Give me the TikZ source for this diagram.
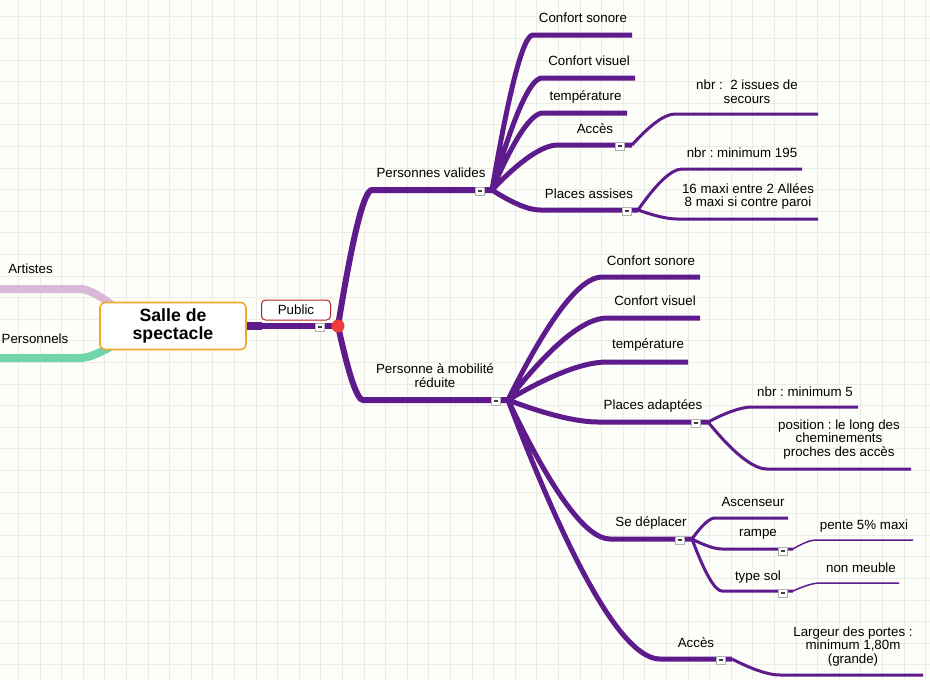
\documentclass[tikz,border=0pt]{standalone}
\usepackage{fontspec}
\setmainfont{Liberation Sans}
\usetikzlibrary{calc}
\definecolor{mmpurple}{HTML}{5E1B8B}
\definecolor{mmred}{HTML}{EE3B3B}
\definecolor{mmdarkred}{HTML}{B22222}
\definecolor{mmorange}{HTML}{F0A830}
\definecolor{mmlilac}{HTML}{D9B8D8}
\definecolor{mmgreen}{HTML}{70D6AA}
\definecolor{mmgrid}{HTML}{ECECE6}
\definecolor{mmbg}{HTML}{FDFDFA}
\frenchspacing
\tikzset{%
    lbl/.style={%
        font=\fontsize{13.33}{13.5}\selectfont, inner sep=0pt, align=center
    },
    salle/.style={%
        draw=mmorange, line width=1.6pt, rounded corners=5pt, fill=white,
        minimum width=146pt, minimum height=47pt, inner sep=0pt, align=center,
        font=\bfseries\fontsize{17.7}{17.5}\selectfont
    },
    pubbox/.style={%
        draw=mmdarkred, line width=1pt, rounded corners=4pt, fill=white,
        minimum width=69pt, minimum height=20pt, inner sep=0pt,
        font=\fontsize{13.33}{13.5}\selectfont
    },
    fold/.style={%
        draw=black!30, fill=white, line width=0.6pt, minimum width=9pt,
        minimum height=8pt, inner sep=0pt,
        path picture={\draw[black!75, line width=1.4pt]
            ([xshift=-2.3pt]path picture bounding box.center) --
            ([xshift=2.3pt]path picture bounding box.center);}
    },
    hubdot/.style={%
        shape=circle, fill=mmred, minimum size=13pt, inner sep=0pt
    },
    gridline/.style={draw=mmgrid, line width=0.8pt},
    br1/.style={draw=mmpurple, line width=6pt},
    br2/.style={draw=mmpurple, line width=5pt},
    br3/.style={draw=mmpurple, line width=3pt},
    br4/.style={draw=mmpurple, line width=1.5pt},
    link/.style={%
        to path={let \p1=(\tikztostart), \p2=(\tikztotarget) in
            .. controls ({\x1+0.433*(\x2-\x1)},{\y1+0.667*(\y2-\y1)})
            and ({\x2-0.233*(\x2-\x1)},\y2) .. (\tikztotarget)}
    }
}

\begin{document}
\begin{tikzpicture}[x=1pt, y=-1pt]
    \useasboundingbox (0,0) rectangle (930,681);
    \fill[mmbg] (0,0) rectangle (930,681);
    \foreach \k in {-1,...,42}
        \draw[gridline] ({18.3+21.6*\k},0) -- ++(0,681);
    \foreach \k in {-1,...,31}
        \draw[gridline] (0,{16.7+21.6*\k}) -- ++(930,0);

    % left branches
    \coordinate (art-s) at (112,305);
    \coordinate (art-m) at (80,289);
    \coordinate (art-l) at (0,289);
    \coordinate (pers-s) at (112,346);
    \coordinate (pers-m) at (80,358);
    \coordinate (pers-l) at (0,358);
    \draw[mmlilac, line width=8pt] (art-s) to[link] (art-m) -- (art-l);
    \draw[mmgreen, line width=8pt] (pers-s) to[link] (pers-m) -- (pers-l);
    \node[lbl] (art) at (30.5,269) {Artistes};
    \node[lbl] (pers) at (35,339) {Personnels};

    \node[salle] (salle) at (173,326) {Salle de\\spectacle};

    % hub and main branches
    \coordinate (hub-c) at (338,326);
    \coordinate (pub-k) at (262,326);
    \coordinate (pv-l) at (372,190);
    \coordinate (pv-j) at (492,190);
    \coordinate (pmr-l) at (363,400);
    \coordinate (pmr-j) at (508,400);

    % Personnes valides
    \coordinate (cs1-l) at (533,35);  \coordinate (cs1-r) at (632,35);
    \coordinate (cv1-l) at (542,78);  \coordinate (cv1-r) at (635,78);
    \coordinate (tp1-l) at (543,113); \coordinate (tp1-r) at (627,113);
    \coordinate (ac1-l) at (558,145); \coordinate (ac1-j) at (632,145);
    \coordinate (pa1-l) at (540,210); \coordinate (pa1-j) at (638,210);
    \coordinate (is1-l) at (675,114); \coordinate (is1-r) at (818,114);
    \coordinate (n195-l) at (682,169); \coordinate (n195-r) at (802,169);
    \coordinate (mx-l) at (677,219);  \coordinate (mx-r) at (818,219);

    % Personne a mobilite reduite
    \coordinate (cs2-l) at (602,277); \coordinate (cs2-r) at (700,277);
    \coordinate (cv2-l) at (607,318); \coordinate (cv2-r) at (700,318);
    \coordinate (tp2-l) at (607,362); \coordinate (tp2-r) at (688,362);
    \coordinate (pad-l) at (598,422); \coordinate (pad-j) at (708,422);
    \coordinate (sed-l) at (610,539); \coordinate (sed-j) at (692,539);
    \coordinate (ac2-l) at (660,659); \coordinate (ac2-j) at (732,659);
    \coordinate (n5-l) at (752,407);  \coordinate (n5-r) at (858,407);
    \coordinate (pos-l) at (767,469); \coordinate (pos-r) at (911,469);
    \coordinate (asc-l) at (715,518); \coordinate (asc-r) at (788,518);
    \coordinate (rmp-l) at (722,549); \coordinate (rmp-j) at (793,549);
    \coordinate (ts-l) at (722,591);  \coordinate (ts-j) at (793,591);
    \coordinate (pt5-l) at (816,540); \coordinate (pt5-r) at (913,540);
    \coordinate (nm-l) at (820,583);  \coordinate (nm-r) at (899,583);
    \coordinate (lrg-l) at (780,675); \coordinate (lrg-r) at (923,675);

    \draw[mmpurple, line width=8pt] (salle.east) -- (pub-k);
    \draw[mmpurple, line width=6pt] (pub-k) -- (hub-c);
    \draw[br1] (hub-c) to[link] (pv-l) -- (pv-j);
    \draw[br1] (hub-c) to[link] (pmr-l) -- (pmr-j);

    \draw[br2]
        (pv-j) to[link] (cs1-l) -- (cs1-r)
        (pv-j) to[link] (cv1-l) -- (cv1-r)
        (pv-j) to[link] (tp1-l) -- (tp1-r)
        (pv-j) to[link] (ac1-l) -- (ac1-j)
        (pv-j) to[link] (pa1-l) -- (pa1-j);
    \draw[br3]
        (ac1-j) to[link] (is1-l) -- (is1-r)
        (pa1-j) to[link] (n195-l) -- (n195-r)
        (pa1-j) to[link] (mx-l) -- (mx-r);

    \draw[br2]
        (pmr-j) to[link] (cs2-l) -- (cs2-r)
        (pmr-j) to[link] (cv2-l) -- (cv2-r)
        (pmr-j) to[link] (tp2-l) -- (tp2-r)
        (pmr-j) to[link] (pad-l) -- (pad-j)
        (pmr-j) to[link] (sed-l) -- (sed-j)
        (pmr-j) to[link] (ac2-l) -- (ac2-j);
    \draw[br3]
        (pad-j) to[link] (n5-l) -- (n5-r)
        (pad-j) to[link] (pos-l) -- (pos-r)
        (sed-j) to[link] (asc-l) -- (asc-r)
        (sed-j) to[link] (rmp-l) -- (rmp-j)
        (sed-j) to[link] (ts-l) -- (ts-j)
        (ac2-j) to[link] (lrg-l) -- (lrg-r);
    \draw[br4]
        (rmp-j) to[link] (pt5-l) -- (pt5-r)
        (ts-j) to[link] (nm-l) -- (nm-r);

    % fold icons
    \node[fold] (pub-f) at (320,327) {};
    \node[fold] (pv-f) at (480,191) {};
    \node[fold] (pmr-f) at (496,401) {};
    \node[fold] (ac1-f) at (620,146) {};
    \node[fold] (pa1-f) at (627,211) {};
    \node[fold] (pad-f) at (696,423) {};
    \node[fold] (sed-f) at (680,540) {};
    \node[fold] (ac2-f) at (721,660) {};
    \node[fold] (rmp-f) at (783,551) {};
    \node[fold] (ts-f) at (783,593) {};
    \node[hubdot] (hub) at (hub-c) {};

    \node[pubbox] (public) at (296,310) {Public};

    % labels
    \node[lbl] (pv) at (431,173) {Personnes valides};
    \node[lbl] (cs1) at (583,18) {Confort sonore};
    \node[lbl] (cv1) at (589,61) {Confort visuel};
    \node[lbl] (tp1) at (585.5,97) {température};
    \node[lbl] (ac1) at (595,129) {Accès};
    \node[lbl] (pa1) at (589,194) {Places assises};
    \node[lbl] (is1) at (747,91.5) {nbr :~ 2 issues de\\secours};
    \node[lbl] (n195) at (742,153) {nbr : minimum 195};
    \node[lbl] (mx) at (748,196.5) {16 maxi entre 2 Allées\\8 maxi si contre paroi};

    \node[lbl] (pmr) at (435,375.5) {Personne à mobilité\\réduite};
    \node[lbl] (cs2) at (651,261) {Confort sonore};
    \node[lbl] (cv2) at (655,301) {Confort visuel};
    \node[lbl] (tp2) at (648,345) {température};
    \node[lbl] (pad) at (653,406) {Places adaptées};
    \node[lbl] (sed) at (651,523) {Se déplacer};
    \node[lbl] (ac2) at (696,643) {Accès};
    \node[lbl] (n5) at (805,392) {nbr : minimum 5};
    \node[lbl] (pos) at (839,439.5) {position : le long des\\cheminements\\proches des accès};
    \node[lbl] (asc) at (753,502) {Ascenseur};
    \node[lbl] (rmp) at (758,534) {rampe};
    \node[lbl] (ts) at (758,577) {type sol};
    \node[lbl] (pt5) at (864,526) {pente 5\% maxi};
    \node[lbl] (nm) at (861,568) {non meuble};
    \node[lbl] (lrg) at (853,646.5) {Largeur des portes :\\minimum 1,80m\\(grande)};
\end{tikzpicture}
\end{document}
